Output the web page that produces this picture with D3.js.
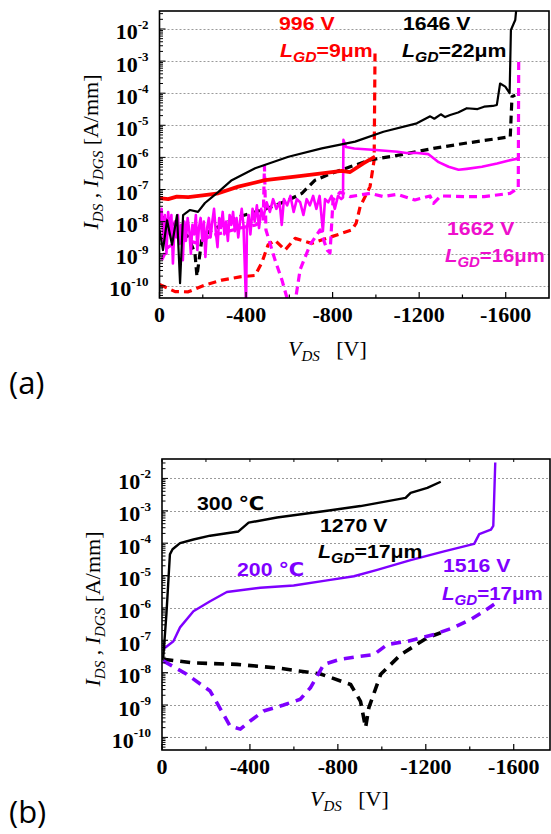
<!DOCTYPE html>
<html><head><meta charset="utf-8">
<script src="https://cdn.jsdelivr.net/npm/d3@7"></script>
<style>body{margin:0;background:#fff}svg{display:block}</style>
</head><body>
<svg id="fig" width="551" height="834"></svg>
<script>
// ---- data: [V_DS (V), current (A/mm)] ----

// (a) L_GD = 22 um, I_DS (solid) and I_DGS (dashed)
var a22Ids=[[0,5.5e-9],[-16,1.3e-9],[-35,1.1e-8],[-58,1.9e-9],[-81,1.6e-8],[-95,1.2e-10],[-109,1.6e-8],[-141,2.3e-8],[-178,2.0e-8],[-210,3.8e-8],[-271,8.3e-8],[-334,1.95e-7],[-442,4.6e-7],[-596,1.05e-6],[-750,1.9e-6],[-904,3.1e-6],[-1035,6.3e-6],[-1189,1.15e-5],[-1251,1.9e-5],[-1270,1.6e-5],[-1300,2.2e-5],[-1320,1.8e-5],[-1343,2.1e-5],[-1380,2.5e-5],[-1420,3.4e-5],[-1470,3.2e-5],[-1500,3.8e-5],[-1540,4.0e-5],[-1559,4.3e-5],[-1574,2.0e-4],[-1598,1.6e-4],[-1618,1.0e-4],[-1624,9.3e-3],[-1644,1.9e-2],[-1650,5.0e-2]];
var a22Idgs=[[-10,1.4e-8],[-72,7.8e-9],[-133,3.4e-9],[-164,1.0e-9],[-173,2.0e-10],[-195,2.6e-9],[-226,4.8e-9],[-288,7.8e-9],[-364,1.4e-8],[-442,2.0e-8],[-519,2.9e-8],[-596,4.7e-8],[-658,7.6e-8],[-719,1.95e-7],[-796,3.2e-7],[-881,5.1e-7],[-973,8.3e-7],[-1112,1.2e-6],[-1266,1.9e-6],[-1420,2.8e-6],[-1621,4.4e-6],[-1629,7.8e-5],[-1644,8.7e-5]];
// (a) L_GD = 9 um
var a9Ids=[[0,5.4e-8],[-40,5.0e-8],[-80,6.0e-8],[-133,5.8e-8],[-200,6.6e-8],[-272,7.6e-8],[-364,1.23e-7],[-488,1.95e-7],[-627,2.5e-7],[-750,3.2e-7],[-842,3.8e-7],[-881,3.5e-7],[-942,6.5e-7],[-996,1.05e-6]];
var a9Idgs=[[0,1.1e-10],[-72,6.6e-11],[-133,6.5e-11],[-210,1.05e-10],[-288,1.5e-10],[-372,1.9e-10],[-442,2.1e-10],[-474,5.5e-10],[-502,1.9e-9],[-534,2.6e-9],[-580,1.3e-9],[-627,3.0e-9],[-704,2.1e-9],[-796,3.4e-9],[-889,5.5e-9],[-909,8.9e-9],[-927,2.9e-8],[-958,7.6e-8],[-973,1.23e-7],[-992,8.3e-7],[-996,1.9e-3]];
// (a) L_GD = 16 um
var a16Ids=[[0,1.0e-8],[-10,2.5e-8],[-18,2.5e-9],[-25,1.6e-8],[-32,1.0e-9],[-40,2.0e-8],[-48,4.0e-9],[-55,1.6e-8],[-62,5.0e-10],[-70,1.0e-8],[-78,3.2e-9],[-85,1.6e-8],[-92,2.0e-9],[-100,7.9e-9],[-108,6.3e-10],[-115,1.0e-8],[-122,2.5e-9],[-130,1.3e-8],[-138,5.0e-9],[-145,1.0e-9],[-152,7.9e-9],[-160,4.0e-9],[-168,1.6e-8],[-175,1.3e-9],[-182,6.3e-9],[-190,1.3e-8],[-198,2.5e-9],[-205,1.0e-8],[-212,7.9e-10],[-220,6.3e-9],[-228,1.3e-8],[-236,3.2e-9],[-244,1.0e-8],[-252,2.5e-8],[-260,5.0e-9],[-268,1.6e-9],[-276,1.3e-8],[-284,6.3e-9],[-292,2.0e-8],[-300,4.0e-9],[-308,1.0e-8],[-316,2.5e-9],[-324,1.6e-8],[-332,7.9e-9],[-340,2.0e-8],[-348,5.0e-9],[-356,1.3e-8],[-364,3.2e-9],[-372,1.0e-8],[-380,2.5e-8],[-388,7.9e-9],[-400,2.5e-11],[-404,6.3e-9],[-412,1.6e-8],[-420,4.0e-9],[-430,2.5e-8],[-440,1.0e-8],[-450,3.2e-8],[-460,6.3e-9],[-470,2.5e-8],[-480,1.3e-8],[-495,4.0e-8],[-510,2.0e-8],[-525,5.0e-8],[-540,2.5e-8],[-555,4.0e-8],[-565,7.9e-9],[-575,5.0e-8],[-590,3.2e-8],[-605,6.3e-8],[-620,2.0e-8],[-635,5.0e-8],[-650,4.0e-8],[-665,1.6e-8],[-680,5.0e-8],[-695,3.2e-8],[-710,6.3e-8],[-725,2.5e-8],[-740,6.3e-8],[-755,5.0e-9],[-765,5.0e-8],[-780,4.0e-8],[-795,6.3e-8],[-810,2.5e-8],[-825,6.3e-8],[-840,5.0e-8],[-848,5.6e-8],[-850,3.5e-6],[-862,2.1e-6],[-900,1.9e-6],[-1000,1.7e-6],[-1100,1.5e-6],[-1150,1.35e-6],[-1180,1.4e-6],[-1243,1.26e-6],[-1290,7.1e-7],[-1336,5.1e-7],[-1382,4.1e-7],[-1420,4.4e-7],[-1490,5.1e-7],[-1560,6.5e-7],[-1610,7.9e-7],[-1660,9.3e-7]];
var a16Idgs=[[-10,6.3e-10],[-39,1.6e-9],[-72,2.1e-9],[-118,2.7e-9],[-178,2.1e-9],[-233,3.5e-9],[-303,4.7e-9],[-372,6.3e-9],[-442,7.8e-9],[-479,9.8e-9],[-485,5.4e-7],[-492,5.5e-9],[-534,6.3e-10],[-566,1.5e-10],[-594,3.2e-11],[-627,3.2e-11],[-650,3.2e-10],[-696,1.9e-9],[-742,5.5e-9],[-775,1.3e-9],[-788,1.05e-9],[-802,4.7e-8],[-835,8.3e-8],[-881,6.0e-8],[-973,7.6e-8],[-1035,6.0e-8],[-1100,7.1e-8],[-1180,4.7e-8],[-1250,6.3e-8],[-1266,3.7e-8],[-1300,6.3e-8],[-1420,6.0e-8],[-1500,6.0e-8],[-1620,7.6e-8],[-1658,1.1e-7],[-1660,1.07e-3]];

// (b) L_GD = 17 um at 300 C and 200 C
var b300Ids=[[0,2.5e-8],[-6,3.2e-8],[-20,6.3e-7],[-36,4.5e-5],[-48,6.5e-5],[-82,1.0e-4],[-143,1.3e-4],[-219,1.7e-4],[-348,2.3e-4],[-394,4.3e-4],[-523,6.2e-4],[-751,1.0e-3],[-903,1.4e-3],[-1108,2.5e-3],[-1131,3.6e-3],[-1207,5.1e-3],[-1268,7.9e-3]];
var b300Idgs=[[-6,2.6e-8],[-143,2.0e-8],[-341,1.8e-8],[-523,1.4e-8],[-721,9.1e-9],[-858,4.3e-9],[-903,1.3e-9],[-926,2.0e-10],[-941,8.3e-10],[-995,8.9e-9],[-1086,3.6e-8],[-1207,1.2e-7],[-1268,1.7e-7]];
var b200Ids=[[-5,5.0e-8],[-14,5.9e-8],[-52,9.3e-8],[-82,2.5e-7],[-143,7.9e-7],[-219,1.6e-6],[-295,3.1e-6],[-447,4.2e-6],[-599,4.9e-6],[-751,7.1e-6],[-873,9.5e-6],[-979,1.5e-5],[-1131,3.0e-5],[-1283,5.6e-5],[-1420,9.5e-5],[-1443,1.9e-4],[-1496,2.6e-4],[-1507,3.4e-4],[-1516,3.1e-2]];
var b200Idgs=[[-6,2.3e-8],[-113,8.9e-9],[-219,2.7e-9],[-280,5.1e-10],[-310,2.2e-10],[-356,1.8e-10],[-401,3.2e-10],[-462,6.5e-10],[-553,1.0e-9],[-629,1.5e-9],[-675,3.4e-9],[-736,1.8e-8],[-812,2.6e-8],[-903,3.2e-8],[-964,3.6e-8],[-1025,7.4e-8],[-1116,9.3e-8],[-1237,1.5e-7],[-1329,2.5e-7],[-1405,4.4e-7],[-1465,7.9e-7],[-1511,1.3e-6]];

// axis ticks
var xMajor=[0,-400,-800,-1200,-1600];
var xMinor=[-200,-600,-1000,-1400];
var yExp=[-2,-3,-4,-5,-6,-7,-8,-9,-10];

var RED='#ff0000', MAG='#ff00ff', MAGT='#ee10cc', PUR='#7f00ff', BLK='#000';
var SERIF='"Liberation Serif","Times New Roman",serif';
var SANS='"Liberation Sans",Arial,"DejaVu Sans",sans-serif';

var svg=d3.select('#fig');
var defs=svg.append('defs');

function panel(o){
  var x=d3.scaleLinear().domain(o.xDom).range([o.l,o.r]);
  var y=d3.scaleLog().domain(o.yDom).range([o.b,o.t]);
  var g=svg.append('g');
  defs.append('clipPath').attr('id','clip'+o.id).append('rect')
    .attr('x',o.l).attr('y',o.t).attr('width',o.r-o.l).attr('height',o.b-o.t);

  // dotted decade grid
  yExp.forEach(function(e){
    var yy=Math.round(y(Math.pow(10,e)))+0.5;
    g.append('line').attr('x1',o.l).attr('x2',o.r).attr('y1',yy).attr('y2',yy)
      .attr('stroke','#9a9a9a').attr('stroke-width',1).attr('stroke-dasharray','2,2');
  });

  // curves
  var line=d3.line().x(function(d){return x(d[0])}).y(function(d){return y(d[1])});
  var cg=g.append('g').attr('clip-path','url(#clip'+o.id+')');
  o.series.forEach(function(s){
    cg.append('path').datum(s.data).attr('d',line).attr('fill','none')
      .attr('stroke',s.color).attr('stroke-width',s.w)
      .attr('stroke-dasharray',s.dash||null).attr('stroke-linejoin','round');
  });

  // frame
  g.append('rect').attr('x',o.l).attr('y',o.t).attr('width',o.r-o.l).attr('height',o.b-o.t)
    .attr('fill','none').attr('stroke','#000').attr('stroke-width',1.6);

  // y ticks, inward (major + log minor)
  var lo=Math.floor(Math.log10(o.yDom[0])), hi=Math.ceil(Math.log10(o.yDom[1]));
  for(var e=lo;e<hi;e++){
    for(var k=1;k<10;k++){
      var v=k*Math.pow(10,e);
      if(v<o.yDom[0]||v>o.yDom[1])continue;
      g.append('line').attr('x1',o.l).attr('x2',o.l+(k==1?6:3.5)).attr('y1',y(v)).attr('y2',y(v))
        .attr('stroke','#000').attr('stroke-width',1);
    }
  }
  // x ticks, inward
  xMajor.concat(xMinor).forEach(function(v){
    var len=xMajor.indexOf(v)>=0?6:3.5;
    g.append('line').attr('x1',x(v)).attr('x2',x(v)).attr('y1',o.b).attr('y2',o.b-len)
      .attr('stroke','#000').attr('stroke-width',1.2);
    if(o.topTicks)g.append('line').attr('x1',x(v)).attr('x2',x(v)).attr('y1',o.t).attr('y2',o.t+3)
      .attr('stroke','#000').attr('stroke-width',1);
  });

  // tick labels
  xMajor.forEach(function(v){
    g.append('text').attr('x',x(v)).attr('y',o.b+24).attr('text-anchor','middle')
      .attr('font-family',SERIF).attr('font-weight','bold').attr('font-size',22).text(String(v));
  });
  yExp.forEach(function(e){
    var t=g.append('text').attr('x',o.l-11).attr('y',y(Math.pow(10,e))+10.5).attr('text-anchor','end')
      .attr('font-family',SERIF).attr('font-weight','bold').attr('font-size',22);
    t.append('tspan').text('10');
    t.append('tspan').attr('dy',-10.5).attr('font-size',13).text(String(e));
  });

  // axis titles
  var yl=g.append('text').attr('transform','translate('+o.ylx+','+o.yly+') rotate(-90)')
    .attr('text-anchor','middle').attr('font-family',SERIF).attr('font-size',22);
  yl.append('tspan').attr('font-style','italic').text('I');
  yl.append('tspan').attr('font-style','italic').attr('font-size',15).attr('dy',5).text('DS');
  yl.append('tspan').attr('dy',-5).text(' , ');
  yl.append('tspan').attr('font-style','italic').text('I');
  yl.append('tspan').attr('font-style','italic').attr('font-size',15).attr('dy',5).text('DGS');
  yl.append('tspan').attr('dy',-5).text('  [A/mm]');

  var xl=g.append('text').attr('x',o.xlx).attr('y',o.xly).attr('font-family',SERIF).attr('font-size',22);
  xl.append('tspan').attr('font-style','italic').text('V');
  xl.append('tspan').attr('font-style','italic').attr('font-size',15).attr('dy',5).text('DS');
  xl.append('tspan').attr('dy',-5).text('\u00a0\u00a0\u00a0[V]');

  // annotations (bold sans, a little wider than Arial)
  o.notes.forEach(function(n){
    var t=g.append('text').attr('transform','translate('+n.x+','+n.y+') scale('+(n.sx||1.12)+',1)').attr('fill',n.c)
      .attr('font-family',SANS).attr('font-weight','bold').attr('font-size',19);
    if(n.lgd){
      t.append('tspan').attr('font-style','italic').text('L');
      t.append('tspan').attr('font-style','italic').attr('font-size',14).attr('dy',5).text('GD');
      t.append('tspan').attr('dy',-5).text(n.lgd);
    } else t.text(n.t);
  });

  // panel tag
  svg.append('text').attr('x',o.tagX).attr('y',o.tagY).attr('font-family','"Open Sans","Noto Sans",sans-serif')
    .attr('font-size',31).text(o.tag);
}

panel({id:'a', l:159.5, r:549, t:11, b:298, xDom:[0,-1800], yDom:[Math.pow(10,-10.38),Math.pow(10,-1.44)],
  ylx:98, yly:152, xlx:288, xly:356, tag:'(a)', tagX:9, tagY:394,
  series:[
    {data:a9Idgs, color:RED, w:3.2, dash:'8,5'},
    {data:a16Idgs, color:MAG, w:3.2, dash:'8,5'},
    {data:a22Idgs, color:BLK, w:3.2, dash:'8,5'},
    {data:a16Ids, color:MAG, w:2.6},
    {data:a9Ids, color:RED, w:3.8},
    {data:a22Ids, color:BLK, w:2.2}
  ],
  notes:[
    {x:279, y:30, c:RED, t:'996 V'},
    {x:280, y:57, c:RED, lgd:'=9\u03bcm'},
    {x:403, y:30, c:BLK, t:'1646 V'},
    {x:402, y:57, c:BLK, lgd:'=22\u03bcm'},
    {x:447, y:235, c:MAGT, t:'1662 V'},
    {x:445, y:262, c:MAGT, lgd:'=16\u03bcm', sx:1.07}
  ]});

panel({id:'b', l:162, r:550, t:459, b:750, xDom:[0,-1765], yDom:[Math.pow(10,-10.39),Math.pow(10,-1.40)],
  ylx:100, yly:609, xlx:310, xly:806, tag:'(b)', tagX:9, tagY:823, topTicks:true,
  series:[
    {data:b300Idgs, color:BLK, w:3.6, dash:'10,7'},
    {data:b200Idgs, color:PUR, w:3.6, dash:'10,7'},
    {data:b200Ids, color:PUR, w:2.4},
    {data:b300Ids, color:BLK, w:2.4}
  ],
  notes:[
    {x:197, y:510, c:BLK, t:'300 \u2103'},
    {x:237, y:576, c:PUR, t:'200 \u2103'},
    {x:320, y:532, c:BLK, t:'1270 V'},
    {x:318, y:558, c:BLK, lgd:'=17\u03bcm'},
    {x:443, y:572, c:PUR, t:'1516 V'},
    {x:442, y:600, c:PUR, lgd:'=17\u03bcm', sx:1.08}
  ]});
</script>
</body></html>
